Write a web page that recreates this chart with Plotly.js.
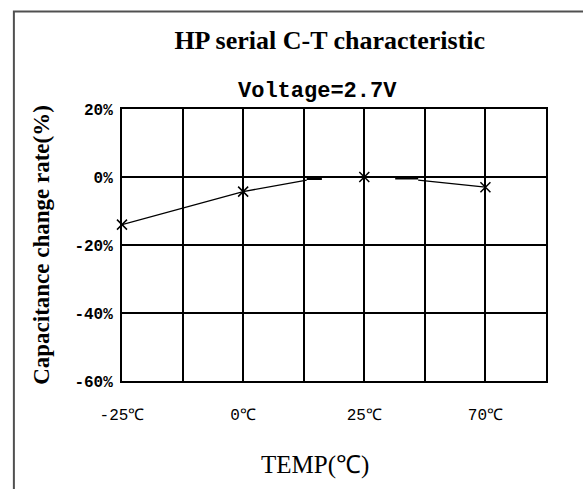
<!DOCTYPE html>
<html>
<head>
<meta charset="utf-8">
<script src="https://cdn.plot.ly/plotly-3.0.1.min.js"></script>
<style>
  html, body { margin: 0; padding: 0; background: #fff; }
  #chart { width: 583px; height: 489px; }
</style>
</head>
<body>
<div id="chart"></div>
<script>
// ---- data ----
const categories = ['-25℃', '0℃', '25℃', '70℃'];
const categoryPos = [0, 2, 4, 6];           // grid column of each temperature
const capChange = [-14, -4.3, 0, -3];       // % capacitance change at each temperature

// the drawn connecting curve (as it appears, with its break near 25℃)
const curveX = [0, 2, 3.05, null, 4.89, 6];
const curveY = [-14, -4.3, -0.9, null, -0.9, -3];
// short heavy strokes of the curve near 0%
const strokeX = [3.05, 3.3, null, 4.51, 4.89];
const strokeY = [-0.5, -0.5, null, -0.35, -0.35];

const gridCols = [0, 1, 2, 3, 4, 5, 6, 7];
const yTicks = [20, 0, -20, -40, -60];
const yTickText = ['20%', '0%', '-20%', '-40%', '-60%'];

const xTickText = gridCols.map(g => {
  const k = categoryPos.indexOf(g);
  return k >= 0 ? categories[k] : '';
});

const traces = [
  {
    x: curveX, y: curveY, type: 'scatter', mode: 'lines',
    line: { color: '#000', width: 1.3 }, connectgaps: false, cliponaxis: false,
    hoverinfo: 'skip', showlegend: false
  },
  {
    x: strokeX, y: strokeY, type: 'scatter', mode: 'lines',
    line: { color: '#000', width: 2.6 }, connectgaps: false,
    hoverinfo: 'skip', showlegend: false
  },
  {
    x: categoryPos, y: capChange, type: 'scatter', mode: 'markers',
    text: categories, cliponaxis: false,
    marker: { symbol: 'x-thin-open', size: 10, color: '#000', line: { color: '#000', width: 1.5 } },
    showlegend: false
  }
];

const layout = {
  width: 583, height: 489,
  margin: { l: 122, r: 37, t: 109, b: 108 },
  paper_bgcolor: '#fff', plot_bgcolor: '#fff',
  showlegend: false,
  title: {
    text: 'HP serial C-T characteristic',
    font: { family: 'Liberation Serif', size: 26, color: '#000', weight: 'bold' },
    xref: 'paper', x: 0.49, xanchor: 'center',
    yref: 'container', y: 0.918, yanchor: 'middle'
  },
  xaxis: {
    range: [0, 7], tickvals: gridCols, ticktext: xTickText,
    showgrid: true, gridcolor: '#000', gridwidth: 2,
    zeroline: false, showline: true, mirror: true, linecolor: '#000', linewidth: 2,
    ticks: '', ticklabelstandoff: 18,
    tickfont: { family: 'Liberation Mono', size: 16, color: '#000' },
    fixedrange: true
  },
  yaxis: {
    range: [-60, 20], tickvals: yTicks, ticktext: yTickText,
    showgrid: true, gridcolor: '#000', gridwidth: 2,
    zeroline: false, showline: true, mirror: true, linecolor: '#000', linewidth: 2,
    ticks: '', ticklabelstandoff: 4,
    tickfont: { family: 'Liberation Mono', size: 16, color: '#000', weight: 'bold' },
    title: {
      text: 'Capacitance change rate(%)',
      font: { family: 'Liberation Serif', size: 23, color: '#000', weight: 'bold' },
      standoff: 18
    },
    fixedrange: true
  },
  annotations: [
    {
      text: 'Voltage=2.7V', xref: 'paper', yref: 'paper',
      x: 0.462, y: 1.066, xanchor: 'center', yanchor: 'middle', showarrow: false,
      font: { family: 'Liberation Mono', size: 22, color: '#000', weight: 'bold' }
    },
    {
      text: 'TEMP(℃)', xref: 'paper', yref: 'paper',
      x: 0.455, y: -0.31, xanchor: 'center', yanchor: 'middle', showarrow: false,
      font: { family: 'Liberation Serif', size: 25, color: '#000' }
    }
  ],
  shapes: [
    {
      type: 'rect', xref: 'paper', yref: 'paper',
      x0: -0.255, x1: 1.4, y0: -0.6, y1: 1.358,
      line: { color: '#505050', width: 2 }, fillcolor: 'rgba(0,0,0,0)', layer: 'below'
    }
  ]
};

Plotly.newPlot('chart', traces, layout, { displayModeBar: false, staticPlot: true });
</script>
</body>
</html>
